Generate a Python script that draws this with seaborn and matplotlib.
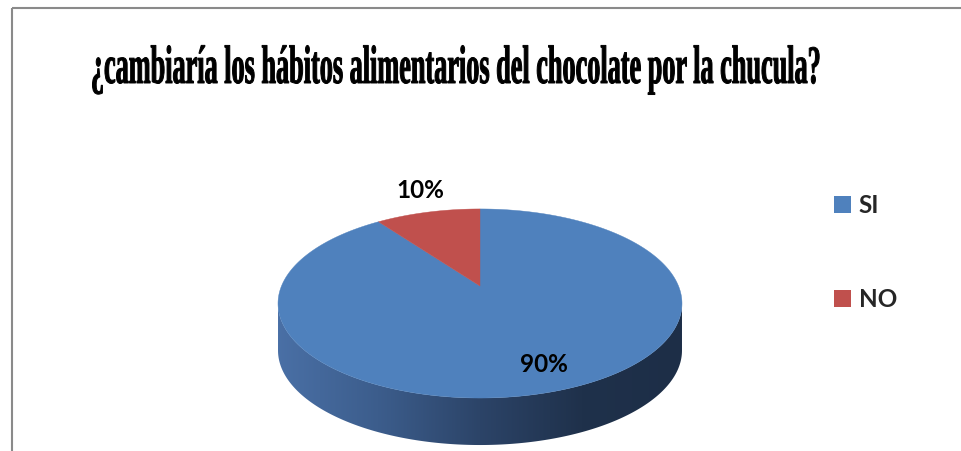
import numpy as np
import matplotlib
matplotlib.use("Agg")
import matplotlib.pyplot as plt
import seaborn as sns
from matplotlib import patheffects
from matplotlib.transforms import Affine2D
from matplotlib.patches import Polygon, Patch
from matplotlib.colors import LinearSegmentedColormap

# ---- data -------------------------------------------------------------
categories = ["SI", "NO"]
values = [90, 10]
pct_labels = ["90%", "10%"]
title_text = "¿cambiaría los hábitos alimentarios del chocolate por la chucula?"

# ---- style ------------------------------------------------------------
sns.set_theme(style="white")
plt.rcParams["font.family"] = ["Lato", "DejaVu Sans"]
palette = sns.color_palette(["#4F81BD", "#C0504D"])
side_cmap = LinearSegmentedColormap.from_list(
    "side", ["#4a70a6", "#3c5d8c", "#2c4468", "#1f314b", "#1d2e47"])

W, H = 962, 451
fig = plt.figure(figsize=(W / 100, H / 100), dpi=100)
ax = fig.add_axes([0, 0, 1, 1])
ax.set_xlim(0, W)
ax.set_ylim(H, 0)
ax.axis("off")

# ---- perspective disc geometry (pixel units) ---------------------------
cx, cy = 480, 286        # centre of the top face
rx, ry = 198.5, 91.3     # radii before perspective division
persp = 0.185            # perspective strength (back smaller than front)
depth = 47               # thickness of the disc


def project(r, theta_deg, drop=0.0):
    """Angle measured clockwise from the back of the disc."""
    t = np.radians(theta_deg)
    u = r * np.sin(t)
    v = r * np.cos(t)
    w = 1 + persp * v
    return cx + rx * u / w, cy - ry * v / w + drop


# side wall: visible front arc between the silhouette tangents
th_r = np.degrees(np.arccos(-persp))
th_l = 360 - th_r
arc = np.linspace(th_r, th_l, 200)
tx, ty = project(1.0, arc)
bx, by = project(1.0, arc[::-1], depth)
side_pts = np.column_stack([np.r_[tx, bx], np.r_[ty, by]])
side_poly = Polygon(side_pts, closed=True, facecolor="none", edgecolor="none")
ax.add_patch(side_poly)
grad = np.linspace(0, 1, 256)[None, :]
im = ax.imshow(grad, cmap=side_cmap, aspect="auto",
               extent=[tx.min() - 2, tx.max() + 2, by.max() + 2, ty.min() - 2],
               zorder=1, interpolation="bilinear")
im.set_clip_path(side_poly)
ax.set_xlim(0, W)
ax.set_ylim(H, 0)

# top face wedges, clockwise from 12 o'clock
fracs = np.array(values, dtype=float) / np.sum(values)
bounds = np.r_[0, np.cumsum(fracs)] * 360
for i, (a0, a1) in enumerate(zip(bounds[:-1], bounds[1:])):
    ang = np.linspace(a0, a1, max(int(a1 - a0) * 2, 8))
    px, py = project(1.0, ang)
    pts = np.column_stack([np.r_[cx, px], np.r_[cy, py]])
    ax.add_patch(Polygon(pts, closed=True, facecolor=palette[i],
                         edgecolor=palette[i], lw=0.3, zorder=2))

# percentage labels
label_r = [0.78, 1.34]
label_shift = [(6, 0), (5, 1)]   # small nudges in points
for i, (a0, a1) in enumerate(zip(bounds[:-1], bounds[1:])):
    lx, ly = project(label_r[i], (a0 + a1) / 2)
    ax.annotate(pct_labels[i], (lx, ly), xytext=label_shift[i],
                textcoords="offset points", ha="center", va="center",
                fontsize=17.5, fontweight="bold", color="black", zorder=3)

# legend
handles = [Patch(facecolor=palette[i], edgecolor="none", label=c)
           for i, c in enumerate(categories)]
ax.legend(handles=handles, loc="center left", bbox_to_anchor=(834, 252.5),
          bbox_transform=ax.transData, frameon=False, borderpad=0,
          borderaxespad=0, handlelength=0.72, handleheight=0.68,
          handletextpad=0.3, labelspacing=2.9,
          prop={"family": "Lato", "weight": "bold", "size": 17.5})


# title: bold serif sized to its width, then stretched vertically
class Stretch(patheffects.AbstractPathEffect):
    def __init__(self, sy, y0, stroke=0.7):
        super().__init__()
        self.sy, self.y0, self.stroke = sy, y0, stroke

    def draw_path(self, renderer, gc, tpath, affine, rgbFace=None):
        t = affine + Affine2D().translate(0, -self.y0).scale(1, self.sy) \
            .translate(0, self.y0)
        gc0 = renderer.new_gc()
        gc0.copy_properties(gc)
        gc0.set_linewidth(self.stroke)
        gc0.set_foreground(rgbFace if rgbFace is not None else "black")
        renderer.draw_path(gc0, tpath, t, rgbFace)
        gc0.restore()


title_cx, title_w, title_base = 457, 730, 83
target_size = 39
title = ax.text(title_cx, title_base, title_text, ha="center", va="baseline",
                family="Liberation Serif", fontweight="bold", fontsize=20,
                color="black", zorder=3)
fig.canvas.draw()
w20 = title.get_window_extent(fig.canvas.get_renderer()).width
fit_size = 20 * title_w / w20
title.set_fontsize(fit_size)
y0_disp = ax.transData.transform((0, title_base))[1]
title.set_path_effects([Stretch(target_size / fit_size, y0_disp)])

# chart frame (top and left edges)
frame_kw = dict(color="#8a8a8a", lw=1.5, clip_on=False, zorder=4,
                solid_capstyle="butt")
ax.plot([12.5, W], [7.5, 7.5], **frame_kw)
ax.plot([12.5, 12.5], [7.5, H], **frame_kw)

fig.savefig("out.png", dpi=100)
